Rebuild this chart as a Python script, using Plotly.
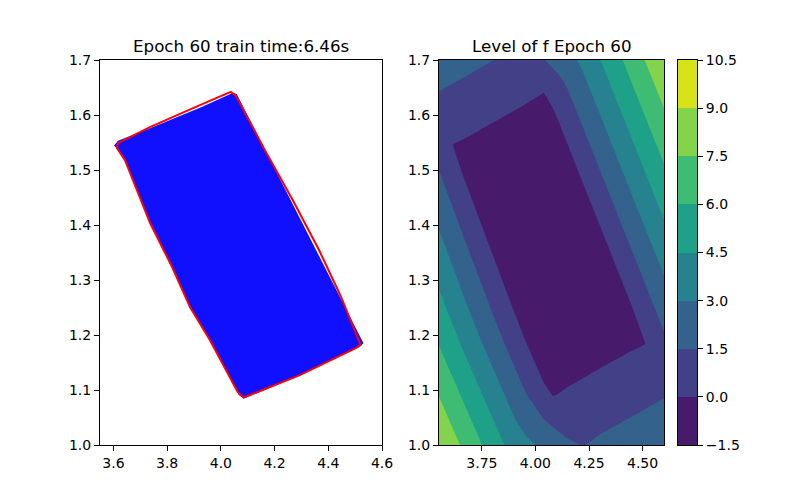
import plotly.graph_objects as go

# left panel: sampled points region (blue) and the learned boundary (red)
blue_x = [3.602, 3.617, 3.736, 3.922, 4.044, 4.059, 4.531, 4.516, 4.294, 4.085, 4.067,
          3.959, 3.885, 3.818, 3.736, 3.643, 3.611, 3.602]
blue_y = [1.544, 1.553, 1.576, 1.613, 1.640, 1.638, 1.185, 1.178, 1.127, 1.084, 1.091,
          1.191, 1.251, 1.324, 1.404, 1.518, 1.540, 1.544]

red_x = [3.617, 3.736, 3.922, 4.037, 4.056, 4.164, 4.268, 4.365, 4.446, 4.511, 4.520,
         4.502, 4.294, 4.108, 4.085, 4.063, 3.959, 3.885, 3.818, 3.736, 3.643, 3.613, 3.617]
red_y = [1.549, 1.578, 1.618, 1.642, 1.635, 1.536, 1.445, 1.355, 1.271, 1.195, 1.182,
         1.176, 1.127, 1.091, 1.087, 1.096, 1.191, 1.251, 1.324, 1.404, 1.518, 1.540, 1.549]

# right panel: level of f on a grid
grid_x = [3.55, 3.617, 3.68, 3.75, 3.82, 3.89, 3.96, 4.04, 4.083, 4.15, 4.22, 4.29, 4.36, 4.43, 4.511, 4.60]
grid_y = [1.00, 1.045, 1.091, 1.14, 1.185, 1.25, 1.31, 1.37, 1.43, 1.49, 1.545, 1.595, 1.639, 1.67, 1.70]
f_vals = [
    [8.92, 7.95, 7.03, 6.02, 5.00, 3.99, 3.36, 2.69, 2.32, 1.76, 1.45, 1.71, 1.90, 2.09, 2.31, 2.56],
    [8.19, 7.22, 6.31, 5.29, 4.28, 3.26, 2.25, 1.54, 1.17, 0.76, 0.95, 1.14, 1.34, 1.53, 1.75, 2.00],
    [7.45, 6.48, 5.56, 4.55, 3.53, 2.52, 1.50, 0.36, -0.05, 0.18, 0.38, 0.57, 0.76, 0.95, 1.18, 1.42],
    [6.65, 5.68, 4.77, 3.75, 2.74, 1.72, 0.71, -0.45, -0.61, -0.43, -0.24, -0.04, 0.15, 0.34, 0.56, 0.81],
    [5.93, 4.96, 4.04, 3.03, 2.01, 1.00, -0.02, -1.18, -1.18, -0.99, -0.80, -0.61, -0.41, -0.22, -0.03, 1.18],
    [4.97, 4.00, 3.08, 2.07, 1.05, 0.04, -0.98, -1.45, -1.45, -1.45, -1.45, -1.42, -1.23, -0.33, 0.85, 2.14],
    [4.13, 3.16, 2.25, 1.23, 0.22, -0.80, -1.45, -1.45, -1.45, -1.45, -1.45, -1.45, -0.46, 0.56, 1.73, 3.02],
    [3.30, 2.33, 1.41, 0.40, -0.62, -1.45, -1.45, -1.45, -1.45, -1.45, -1.45, -0.58, 0.43, 1.45, 2.62, 3.91],
    [2.46, 1.49, 0.58, -0.44, -1.45, -1.45, -1.45, -1.45, -1.45, -1.45, -0.71, 0.30, 1.32, 2.33, 3.51, 4.80],
    [1.63, 0.66, -0.26, -1.12, -1.33, -1.45, -1.45, -1.45, -1.45, -0.84, 0.18, 1.19, 2.21, 3.22, 4.40, 5.69],
    [0.86, -0.03, -0.19, -0.39, -0.60, -0.81, -1.01, -1.25, -1.00, -0.03, 0.99, 2.00, 3.02, 4.03, 5.21, 6.50],
    [0.86, 0.66, 0.48, 0.27, 0.07, -0.14, -0.35, -0.58, -0.26, 0.71, 1.73, 2.74, 3.76, 4.77, 5.95, 7.24],
    [1.45, 1.25, 1.06, 0.86, 0.65, 0.44, 0.24, -0.02, 0.43, 1.37, 2.38, 3.40, 4.41, 5.43, 6.60, 7.89],
    [1.86, 1.66, 1.48, 1.27, 1.06, 0.86, 0.65, 0.74, 1.17, 1.83, 2.84, 3.85, 4.87, 5.88, 7.06, 8.35],
    [2.26, 2.06, 1.88, 1.67, 1.46, 1.26, 1.05, 1.46, 1.88, 2.55, 3.28, 4.30, 5.31, 6.33, 7.52, 8.79],
]

levels = [-1.5, 0.0, 1.5, 3.0, 4.5, 6.0, 7.5, 9.0, 10.5]
level_text = ["\u22121.5", "0.0", "1.5", "3.0", "4.5", "6.0", "7.5", "9.0", "10.5"]
band_colors = ["#481a6c", "#424086", "#33638d", "#26828e", "#1fa088", "#3fbc73", "#84d44b", "#d8e219"]

# stepped colorscale: plotly samples each band at its midpoint, range is start-size/2 .. end+size/2
region_colors = [band_colors[0]] + band_colors + [band_colors[-1]]
n = len(region_colors) - 1
colorscale = []
for k, col in enumerate(region_colors):
    colorscale.append([max(0.0, (k - 0.5) / n), col])
    colorscale.append([min(1.0, (k + 0.5) / n), col])

# colorbar drawn as its own little axis so it spans exactly -1.5 .. 10.5
nb = len(band_colors)
bar_scale = []
for k, col in enumerate(band_colors):
    bar_scale.append([k / nb, col])
    bar_scale.append([(k + 1) / nb, col])

# page has an 8px body margin, so the figure is 792x492 and positions are given in window pixels
W, H, OFF = 792, 492, 8


def fx(px):
    return (px - OFF) / W


def fy(py):
    return 1 - (py - OFF) / H


font = dict(family="DejaVu Sans", size=14, color="black")
title_font = dict(family="DejaVu Sans", size=16.7, color="black")

fig = go.Figure()

fig.add_trace(go.Scatter(x=blue_x, y=blue_y, mode="lines", fill="toself",
                         fillcolor="#1010ff", line=dict(width=0, color="#1010ff"),
                         hoverinfo="skip", showlegend=False, xaxis="x", yaxis="y"))
fig.add_trace(go.Scatter(x=red_x, y=red_y, mode="lines",
                         line=dict(width=2, color="red"),
                         showlegend=False, xaxis="x", yaxis="y"))

fig.add_trace(go.Contour(
    x=grid_x, y=grid_y, z=f_vals,
    autocontour=False,
    contours=dict(start=levels[0], end=levels[-1], size=1.5, coloring="fill", showlines=False),
    line=dict(width=0, smoothing=0),
    colorscale=colorscale, showscale=False,
    xaxis="x2", yaxis="y2", showlegend=False,
))

fig.add_trace(go.Heatmap(
    x=[0, 1], y=levels, z=[[k] for k in range(nb)],
    zmin=-0.5, zmax=nb - 0.5, colorscale=bar_scale, showscale=False,
    hoverinfo="skip", xaxis="x3", yaxis="y3",
))

axis_style = dict(showline=True, mirror=True, linecolor="black", linewidth=1,
                  ticks="outside", ticklen=5, tickwidth=1, tickcolor="black",
                  showgrid=False, zeroline=False, automargin=False, tickfont=font)
y_ticks = [1.0, 1.1, 1.2, 1.3, 1.4, 1.5, 1.6, 1.7]
y_text = ["1.0", "1.1", "1.2", "1.3", "1.4", "1.5", "1.6", "1.7"]
y_dom = [fy(445), fy(60)]

fig.update_layout(
    width=W, height=H,
    margin=dict(l=0, r=0, t=0, b=0, autoexpand=False),
    paper_bgcolor="white", plot_bgcolor="white",
    font=font,
    xaxis=dict(domain=[fx(100), fx(382)], range=[3.55, 4.6], tickvals=[3.6, 3.8, 4.0, 4.2, 4.4, 4.6],
               ticktext=["3.6", "3.8", "4.0", "4.2", "4.4", "4.6"], **axis_style),
    yaxis=dict(domain=y_dom, range=[1.0, 1.7], tickvals=y_ticks, ticktext=y_text, **axis_style),
    xaxis2=dict(domain=[fx(439), fx(664)], range=[3.55, 4.6], anchor="y2", tickvals=[3.75, 4.0, 4.25, 4.5],
                ticktext=["3.75", "4.00", "4.25", "4.50"], **axis_style),
    yaxis2=dict(domain=y_dom, range=[1.0, 1.7], anchor="x2",
                tickvals=y_ticks, ticktext=y_text, **axis_style),
    xaxis3=dict(domain=[fx(678), fx(697)], range=[0, 1], anchor="y3", showline=True, mirror=True,
                linecolor="black", linewidth=1, ticks="", showticklabels=False,
                showgrid=False, zeroline=False, automargin=False),
    yaxis3=dict(domain=y_dom, range=[-1.5, 10.5], anchor="x3", side="right",
                tickvals=levels, ticktext=level_text, **axis_style),
    annotations=[
        dict(text="Epoch 60 train time:6.46s", x=fx(241), y=fy(46), xref="paper", yref="paper",
             showarrow=False, xanchor="center", yanchor="middle", font=title_font),
        dict(text="Level of f Epoch 60", x=fx(551.5), y=fy(46), xref="paper", yref="paper",
             showarrow=False, xanchor="center", yanchor="middle", font=title_font),
    ],
)

fig.write_html("out.html")
